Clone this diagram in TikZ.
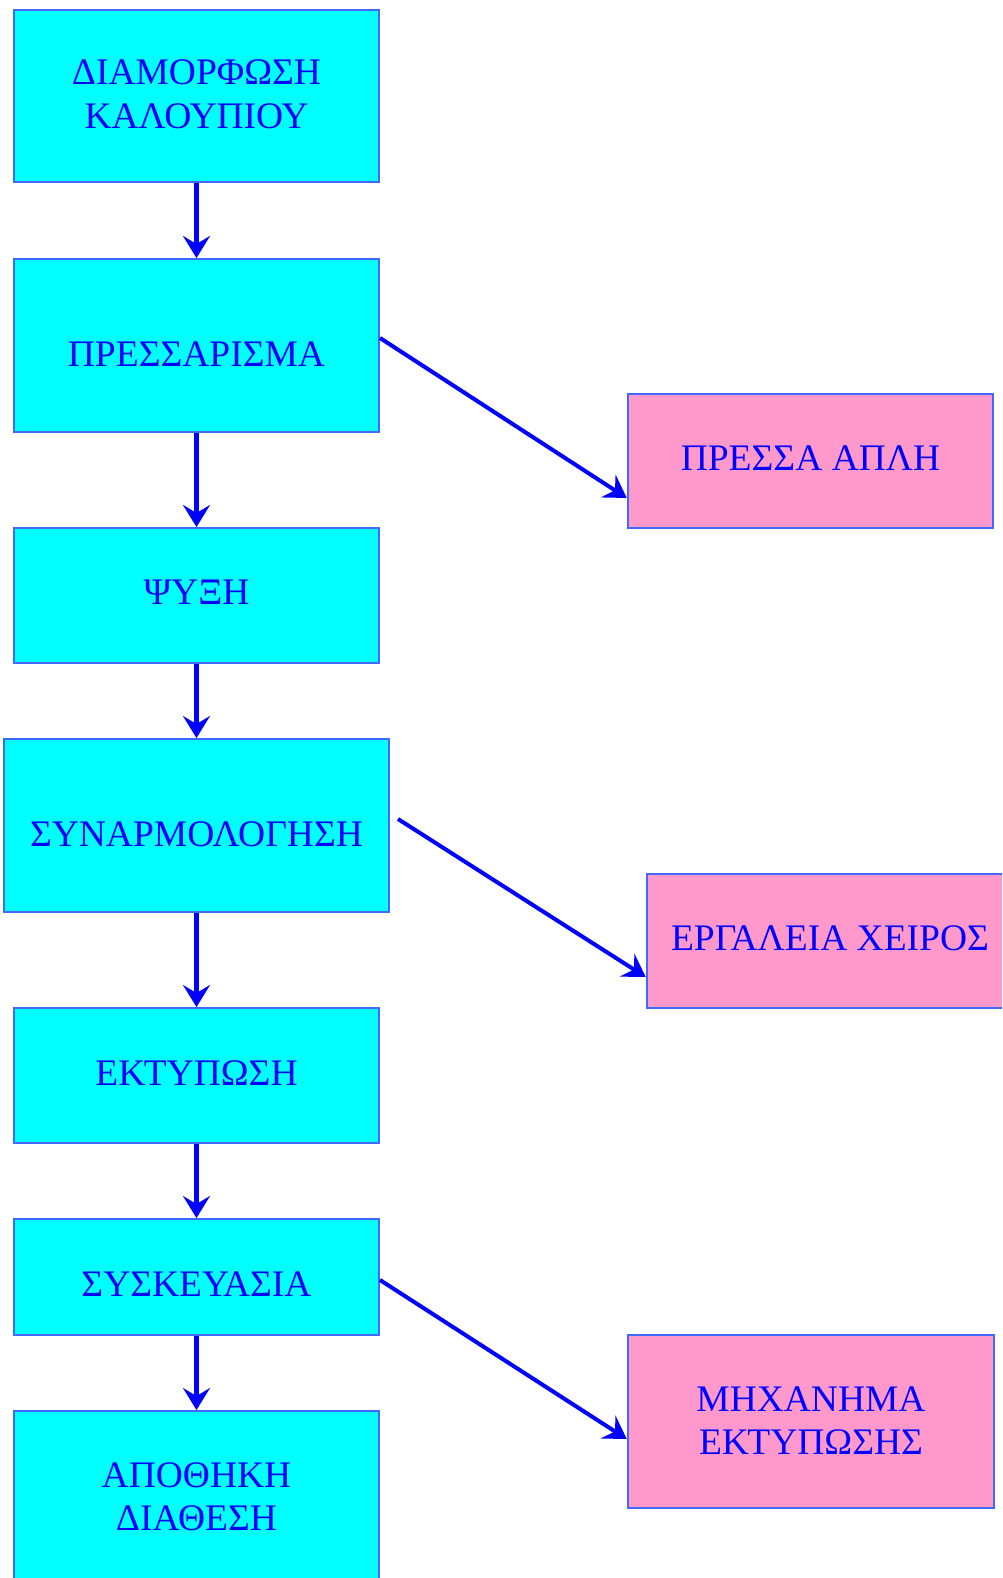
\documentclass[tikz,border=0pt]{standalone}
\usepackage{fontspec}
\setmainfont{Liberation Serif}
\usetikzlibrary{arrows.meta}
\definecolor{boxcyan}{RGB}{0,255,255}
\definecolor{toolpink}{RGB}{255,153,204}
\definecolor{bordblue}{RGB}{65,105,255}
\definecolor{txtblue}{RGB}{0,0,255}
\definecolor{arrblue}{RGB}{0,0,255}
\begin{document}
\begin{tikzpicture}[x=1pt,y=-1pt,
  proc/.style={draw=bordblue, line width=2pt, fill=boxcyan, rectangle, inner sep=0pt},
  tool/.style={draw=bordblue, line width=2.5pt, fill=toolpink, rectangle, inner sep=0pt},
  lbl/.style={anchor=base, inner sep=0pt, text=txtblue, font=\fontsize{37.5}{44}\selectfont},
  flow/.style={draw=arrblue, line width=4.5pt, -{Stealth[length=22pt,width=27pt,inset=8pt]}},
  side/.style={draw=arrblue, line width=4pt, -{Stealth[length=22pt,width=27pt,inset=8pt]}}
]
\useasboundingbox (0,0) rectangle (1002,1578);
\clip (0,0) rectangle (1002,1578);

% process boxes
\node[proc, minimum width=365pt, minimum height=172pt] (b1) at (196.5,96) {};
\node[proc, minimum width=365pt, minimum height=173pt] (b2) at (196.5,345.5) {};
\node[proc, minimum width=365pt, minimum height=135pt] (b3) at (196.5,595.5) {};
\node[proc, minimum width=385pt, minimum height=173pt] (b4) at (196.5,825.5) {};
\node[proc, minimum width=365pt, minimum height=135pt] (b5) at (196.5,1075.5) {};
\node[proc, minimum width=365pt, minimum height=116pt] (b6) at (196.5,1277) {};
\node[proc, minimum width=365pt, minimum height=170pt] (b7) at (196.5,1496) {};

% tool boxes
\node[tool, minimum width=365pt, minimum height=134pt] (p1) at (810.5,461) {};
\node[tool, minimum width=366pt, minimum height=134pt] (p2) at (830,941) {};
\node[tool, minimum width=366pt, minimum height=173pt] (p3) at (811,1421.5) {};

% labels
\node[lbl] (t1a) at (196.5,85) {ΔΙΑΜΟΡΦΩΣΗ};
\node[lbl] (t1b) at (196.5,129) {ΚΑΛΟΥΠΙΟΥ};
\node[lbl] (t2) at (196.5,366) {ΠΡΕΣΣΑΡΙΣΜΑ};
\node[lbl] (t3) at (196.5,604) {ΨΥΞΗ};
\node[lbl] (t4) at (196.5,846) {ΣΥΝΑΡΜΟΛΟΓΗΣΗ};
\node[lbl] (t5) at (196.5,1085) {ΕΚΤΥΠΩΣΗ};
\node[lbl] (t6) at (196.5,1296) {ΣΥΣΚΕΥΑΣΙΑ};
\node[lbl] (t7a) at (196.5,1487) {ΑΠΟΘΗΚΗ};
\node[lbl] (t7b) at (196.5,1530) {ΔΙΑΘΕΣΗ};
\node[lbl] (tp1) at (810.5,470) {ΠΡΕΣΣΑ ΑΠΛΗ};
\node[lbl] (tp2) at (830,950) {ΕΡΓΑΛΕΙΑ ΧΕΙΡΟΣ};
\node[lbl] (tp3a) at (811,1411) {ΜΗΧΑΝΗΜΑ};
\node[lbl] (tp3b) at (811,1454) {ΕΚΤΥΠΩΣΗΣ};

% flow arrows
\draw[flow] (b1.south) -- (b2.north);
\draw[flow] (b2.south) -- (b3.north);
\draw[flow] (b3.south) -- (b4.north);
\draw[flow] (b4.south) -- (b5.north);
\draw[flow] (b5.south) -- (b6.north);
\draw[flow] (b6.south) -- (b7.north);

% side arrows
\draw[side] ([yshift=7.5pt]b2.east) -- ([yshift=-37pt]p1.west);
\draw[side] ([xshift=8pt,yshift=6.5pt]b4.east) -- ([yshift=-36pt]p2.west);
\draw[side] ([yshift=-3pt]b6.east) -- ([yshift=-17.5pt]p3.west);
\end{tikzpicture}
\end{document}
